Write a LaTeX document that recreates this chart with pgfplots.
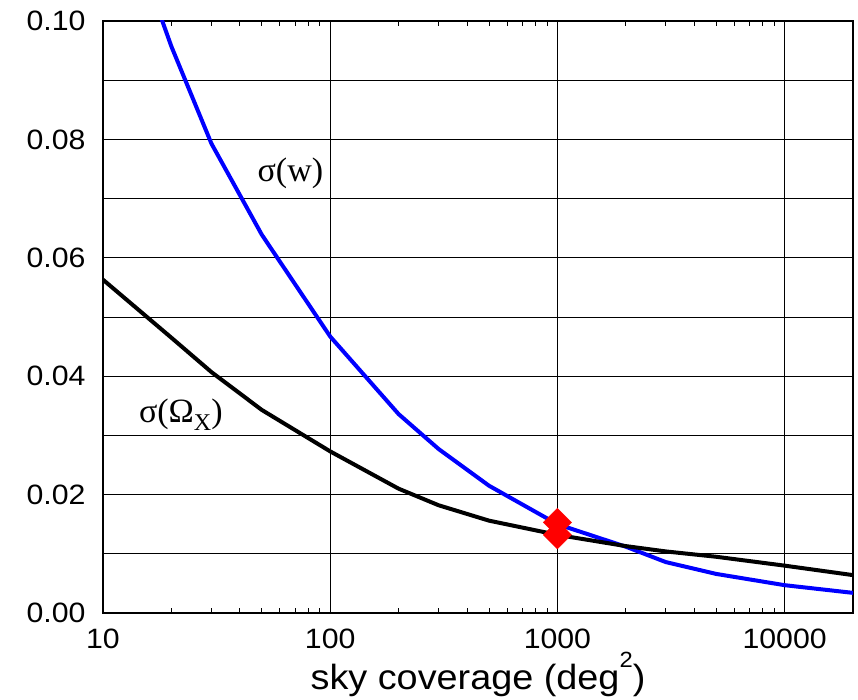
\documentclass[border=0pt]{standalone}
\usepackage{fontspec}
\setmainfont{Liberation Sans}[FakeStretch=1.08]
\newfontfamily\tms{Liberation Serif}
\usepackage{pgfplots}
\pgfplotsset{compat=1.18}
\pgfplotstableread{
x y
10 0.128
20 0.0957
30 0.0793
50 0.0639
100 0.0467
200 0.0336
300 0.0277
500 0.0215
1000 0.0150
2000 0.0112
3000 0.0086
5000 0.0066
10000 0.0047
20000 0.0034
}\sigw
\pgfplotstableread{
x y
10 0.0563
20 0.0465
30 0.0407
50 0.0343
100 0.0273
200 0.0210
300 0.0182
500 0.0156
1000 0.0132
2000 0.0113
3000 0.0104
5000 0.0095
10000 0.0080
20000 0.0064
}\sigox
\begin{document}
\begin{tikzpicture}
\useasboundingbox (-103pt,-86pt) rectangle (755pt,613pt);
\begin{axis}[
  at={(0pt,0pt)}, anchor=south west,
  scale only axis, width=750pt, height=592pt,
  xmode=log, xmin=10, xmax=20000, ymin=0, ymax=0.1,
  log ticks with fixed point,
  xtick={10,100,1000,10000},
  ytick={0,0.02,0.04,0.06,0.08,0.1},
  minor ytick={0.01,0.03,0.05,0.07,0.09},
  yticklabel style={/pgf/number format/fixed, /pgf/number format/fixed zerofill, /pgf/number format/precision=2, xshift=-14pt},
  /pgf/number format/assume math mode=true,
  /pgf/number format/1000 sep={},
  xmajorgrids, ymajorgrids, yminorgrids,
  major grid style={black, line width=1pt},
  minor grid style={black, line width=1pt},
  axis line style={line width=2pt},
  tick align=inside, tick pos=both,
  major tick length=10pt, minor tick length=5pt,
  every tick/.style={black, line width=1pt},
  minor y tick style={draw=none},
  tick label style={font=\fontsize{28}{30}\selectfont},
  xticklabel style={yshift=-12pt},
  xlabel={sky coverage (deg\raisebox{0.62em}{\fontsize{22}{22}\selectfont 2})},
  xlabel style={font=\fontsize{35}{38}\selectfont, yshift=3pt},
  clip=true,
]
\addplot[blue, line width=4pt] table {\sigw};
\addplot[black, line width=4pt] table {\sigox};
\addplot[only marks, mark=square*, mark size=10pt, red,
  mark options={rotate=45, fill=red, draw=red}] coordinates {(1000,0.0153) (1000,0.0132)};
\node[anchor=base, font=\tms\fontsize{34}{36}\selectfont] at (axis cs:66.8,0.0729) {σ(w)};
\node[anchor=base, font=\tms\fontsize{34}{36}\selectfont] at (axis cs:22,0.0321) {σ(Ω\raisebox{-8pt}{\fontsize{24}{24}\selectfont X})};
\end{axis}
\end{tikzpicture}
\end{document}
